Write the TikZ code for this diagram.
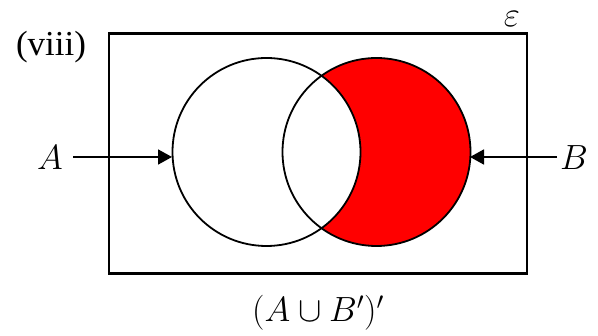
\RequirePackage{fix-cm}
\documentclass[tikz,border=0pt]{standalone}
\usepackage{fontspec}
\setmainfont{Liberation Serif}
\usetikzlibrary{arrows.meta}
\tikzset{
  setcircle/.style={circle, minimum size=188pt, inner sep=0pt, line width=1.8pt},
  bigtext/.style={font=\fontsize{35}{40}\selectfont, inner sep=0pt},
  pointer/.style={line width=1.8pt, -{Triangle[length=14pt,width=15pt]}}
}
\begin{document}
\begin{tikzpicture}[x=1pt,y=-1pt]
  \useasboundingbox (0,0) rectangle (598,336);
  % universal set
  \node[draw, line width=2.2pt, minimum width=418pt, minimum height=240pt, inner sep=0pt] (U) at (318,153.5) {};
  % circles
  \node[setcircle, fill=red] (Bc) at (376.5,152) {};
  \node[setcircle, fill=white] (Ac) at (266.5,152) {};
  \node[setcircle, draw] at (Ac) {};
  \node[setcircle, draw] at (Bc) {};
  % labels
  \node[bigtext] (viii) at (51,47) {(viii)};
  \node[bigtext] (eps) at (512,19) {$\varepsilon$};
  \node[bigtext] (Alab) at (50,158) {$A$};
  \node[bigtext] (Blab) at (574,158) {$B$};
  \node[bigtext] (expr) at (318,313) {$(A\cup B')'$};
  % arrows
  \coordinate (As) at (73,157);
  \coordinate (Ae) at (172,157);
  \coordinate (Bs) at (557,157);
  \coordinate (Be) at (470,157);
  \draw[pointer] (As) -- (Ae);
  \draw[pointer] (Bs) -- (Be);
\end{tikzpicture}
\end{document}
